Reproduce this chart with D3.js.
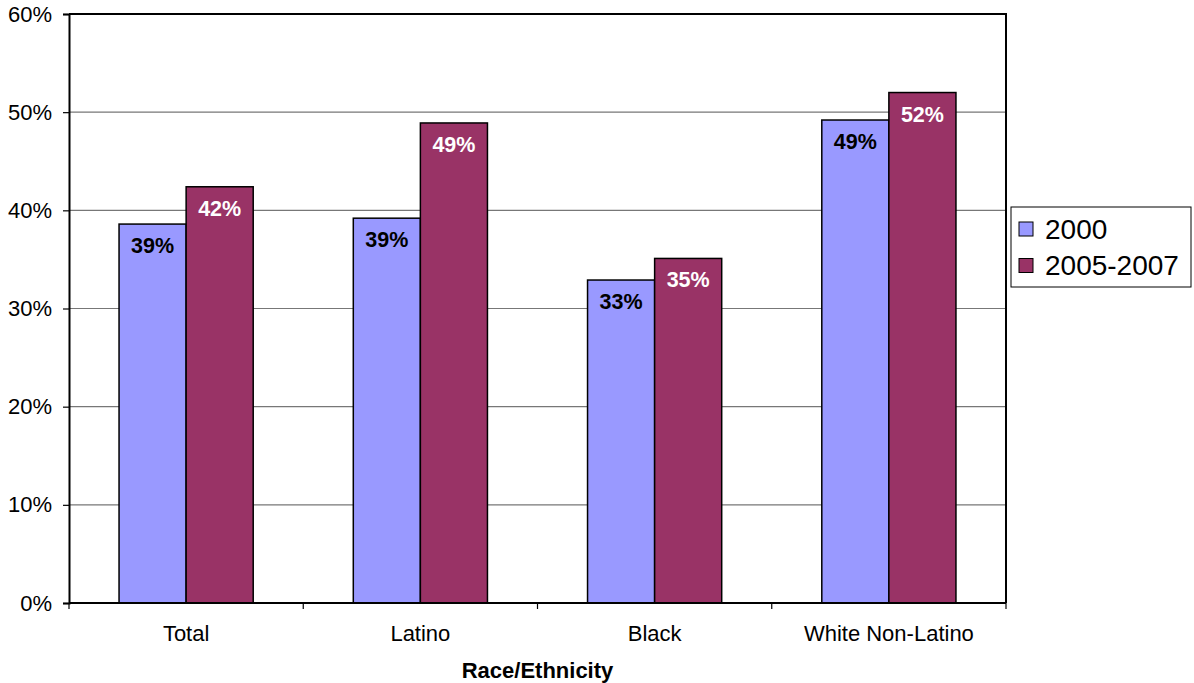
<!DOCTYPE html>
<html>
<head>
<meta charset="utf-8">
<script src="https://cdn.jsdelivr.net/npm/d3@7"></script>
<style>
  html, body { margin: 0; padding: 0; background: #fff; }
  svg { display: block; font-family: "Liberation Sans", Arial, sans-serif; }
</style>
</head>
<body>
<svg id="chart" width="1194" height="683"></svg>
<script>
// Share of population by race/ethnicity, 2000 vs 2005-2007
const categories = ["Total", "Latino", "Black", "White Non-Latino"];
const seriesNames = ["2000", "2005-2007"];
const values2000 = [0.386, 0.392, 0.329, 0.492];
const values2005 = [0.424, 0.489, 0.351, 0.520];
const yTicks = [0, 0.1, 0.2, 0.3, 0.4, 0.5, 0.6];
const seriesColors = ["#9999FF", "#993366"];
const labelColors = ["#000000", "#FFFFFF"];
const axisTitle = "Race/Ethnicity";

const seriesValues = [values2000, values2005];
const rows = categories.map((c, i) => ({
  category: c,
  values: seriesNames.map((s, j) => ({ series: s, idx: j, value: seriesValues[j][i] }))
}));

const svg = d3.select("#chart");
const plot = { left: 69, right: 1006, top: 14, bottom: 603 };

const x = d3.scaleBand().domain(categories).range([plot.left, plot.right]).paddingInner(0).paddingOuter(0);
const xSub = d3.scaleBand().domain(seriesNames).range([0, x.bandwidth()]).paddingInner(0).paddingOuter(0.746);
const y = d3.scaleLinear().domain([0, 0.6]).range([plot.bottom, plot.top]);

// horizontal gridlines
svg.append("g")
  .selectAll("line")
  .data(yTicks.filter(t => t > 0 && t < 0.6))
  .join("line")
  .attr("x1", plot.left).attr("x2", plot.right)
  .attr("y1", d => y(d)).attr("y2", d => y(d))
  .attr("stroke", "#777").attr("stroke-width", 1.2);

// bars
const groups = svg.append("g")
  .selectAll("g")
  .data(rows)
  .join("g")
  .attr("transform", d => `translate(${x(d.category)},0)`);

groups.selectAll("rect")
  .data(d => d.values)
  .join("rect")
  .attr("x", d => xSub(d.series))
  .attr("y", d => y(d.value))
  .attr("width", xSub.bandwidth())
  .attr("height", d => y(0) - y(d.value))
  .attr("fill", d => seriesColors[d.idx])
  .attr("stroke", "#000")
  .attr("stroke-width", 1.5);

groups.selectAll("text")
  .data(d => d.values)
  .join("text")
  .attr("x", d => xSub(d.series) + xSub.bandwidth() / 2)
  .attr("y", d => y(d.value) + 29)
  .attr("text-anchor", "middle")
  .attr("font-weight", "bold")
  .attr("font-size", 21.5)
  .attr("fill", d => labelColors[d.idx])
  .text(d => Math.round(d.value * 100) + "%");

// plot frame (top and right edges)
svg.append("path")
  .attr("d", `M${plot.left},${plot.top}H${plot.right}V${plot.bottom}`)
  .attr("fill", "none").attr("stroke", "#000").attr("stroke-width", 2);

// y axis
const yAxis = svg.append("g")
  .attr("transform", `translate(${plot.left},0)`)
  .call(d3.axisLeft(y).tickValues(yTicks).tickFormat(d3.format(".0%")).tickSize(6).tickPadding(11));
yAxis.select(".domain").attr("stroke-width", 2);
yAxis.selectAll(".tick line").attr("stroke", "#000").attr("stroke-width", 1.2);
yAxis.selectAll("text").attr("font-size", 22).attr("font-family", "Liberation Sans, Arial, sans-serif").attr("fill", "#000");

// x axis: ticks at category boundaries
const boundaries = categories.map(c => x(c)).concat([plot.right]);
svg.append("line")
  .attr("x1", plot.left).attr("x2", plot.right)
  .attr("y1", plot.bottom).attr("y2", plot.bottom)
  .attr("stroke", "#000").attr("stroke-width", 2);
svg.append("g").selectAll("line")
  .data(boundaries)
  .join("line")
  .attr("x1", d => d).attr("x2", d => d)
  .attr("y1", plot.bottom).attr("y2", plot.bottom + 6)
  .attr("stroke", "#000").attr("stroke-width", 1.2);
svg.append("g").selectAll("text")
  .data(categories)
  .join("text")
  .attr("x", d => x(d) + x.bandwidth() / 2)
  .attr("y", 641)
  .attr("text-anchor", "middle")
  .attr("font-size", 22)
  .attr("fill", "#000")
  .text(d => d);

svg.append("text")
  .attr("x", (plot.left + plot.right) / 2)
  .attr("y", 678)
  .attr("text-anchor", "middle")
  .attr("font-weight", "bold")
  .attr("font-size", 22)
  .text(axisTitle);

// legend
const legend = svg.append("g");
legend.append("rect")
  .attr("x", 1011).attr("y", 207).attr("width", 180).attr("height", 80)
  .attr("fill", "#fff").attr("stroke", "#000").attr("stroke-width", 1);
const items = legend.selectAll("g.item")
  .data(seriesNames)
  .join("g")
  .attr("class", "item")
  .attr("transform", (d, i) => `translate(1019,${222 + i * 36.5})`);
items.append("rect")
  .attr("width", 14).attr("height", 14)
  .attr("fill", (d, i) => seriesColors[i])
  .attr("stroke", "#000").attr("stroke-width", 1);
items.append("text")
  .attr("x", 26).attr("y", 16.5)
  .attr("font-size", 28)
  .attr("fill", "#000")
  .text(d => d);
</script>
</body>
</html>
